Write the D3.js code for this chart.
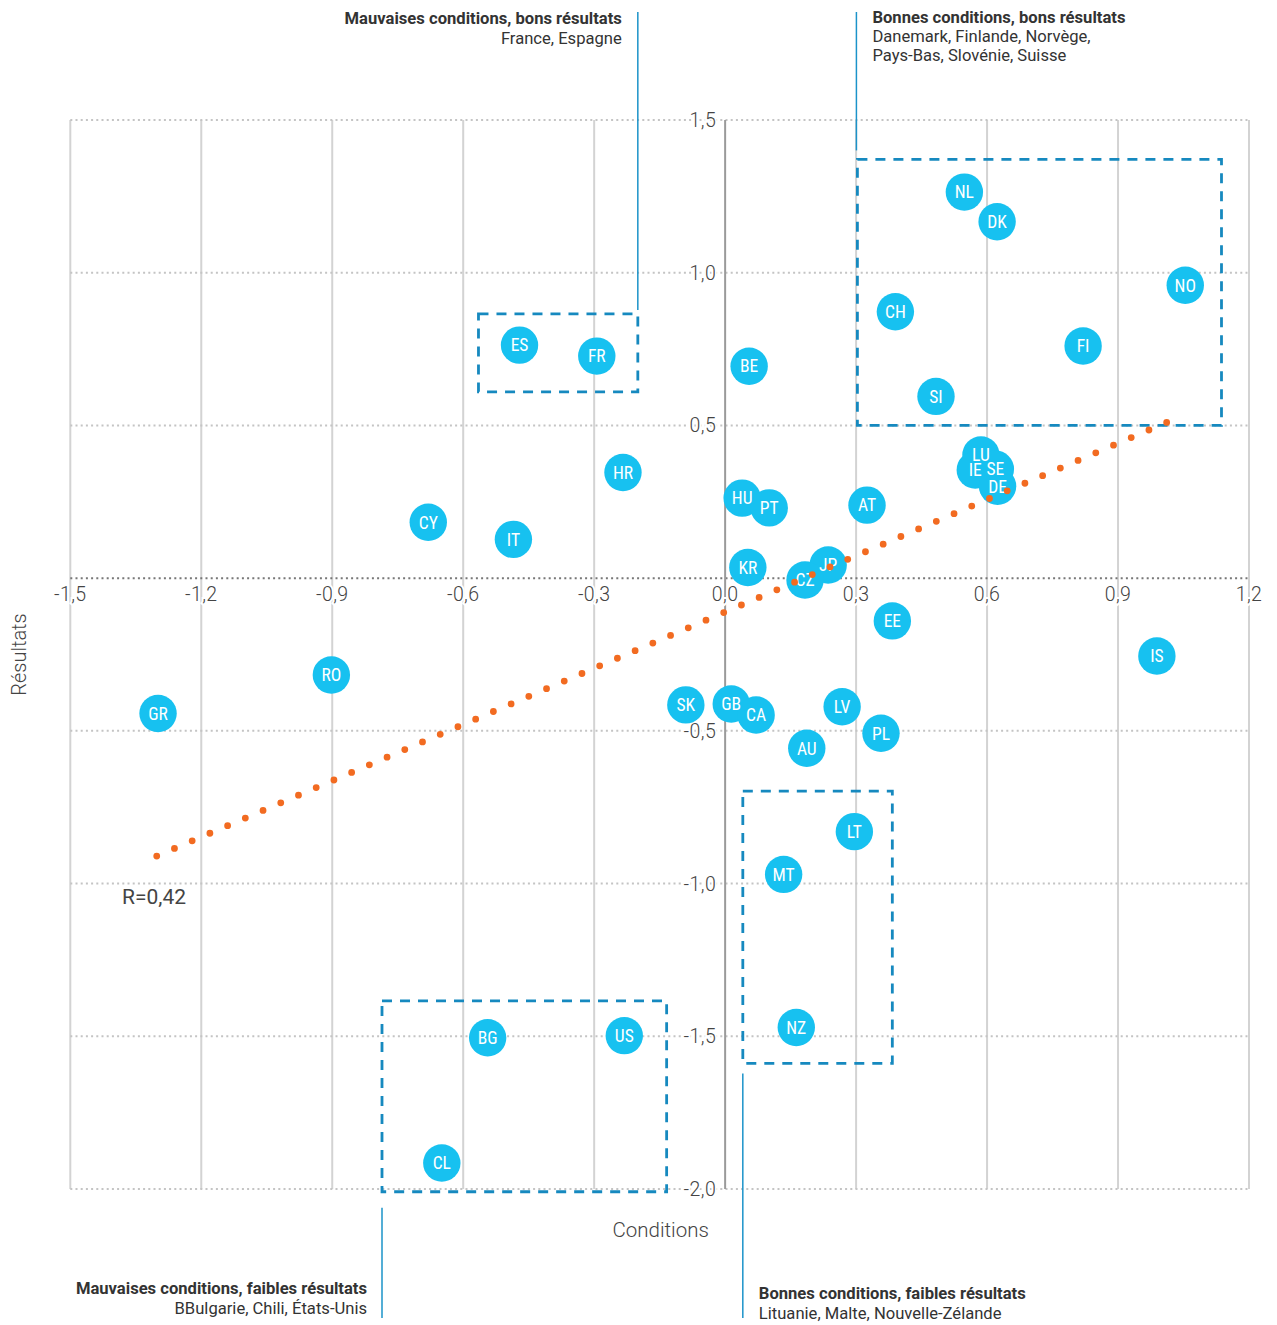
<!DOCTYPE html>
<html><head><meta charset="utf-8">
<script src="https://cdn.jsdelivr.net/npm/d3@7"></script>
<style>
html,body{margin:0;padding:0;background:#fff;}
svg{display:block;}
</style></head>
<body>
<svg id="c" width="1277" height="1325"></svg>
<script>
// ---- data ----
const codes = ["NL","DK","NO","CH","FI","SI","BE","ES","FR","HR","CY","IT","HU","PT","AT","LU","IE","SE","DE","KR","JP","CZ","EE","IS","RO","GR","SK","GB","CA","LV","AU","PL","LT","MT","NZ","BG","US","CL"];
const conditions = [0.548,0.623,1.054,0.390,0.820,0.483,0.055,-0.471,-0.294,-0.234,-0.680,-0.485,0.039,0.101,0.325,0.586,0.573,0.619,0.624,0.052,0.236,0.183,0.383,0.989,-0.902,-1.299,-0.090,0.014,0.071,0.268,0.187,0.357,0.296,0.134,0.163,-0.544,-0.231,-0.649];
const resultats  = [1.264,1.167,0.959,0.872,0.760,0.595,0.694,0.763,0.727,0.346,0.183,0.127,0.262,0.230,0.239,0.403,0.354,0.357,0.301,0.035,0.043,-0.006,-0.140,-0.255,-0.317,-0.443,-0.415,-0.412,-0.448,-0.421,-0.557,-0.508,-0.830,-0.970,-1.471,-1.505,-1.498,-1.915];

const xTicks = [-1.5,-1.2,-0.9,-0.6,-0.3,0.0,0.3,0.6,0.9,1.2];
const yTicks = [-2.0,-1.5,-1.0,-0.5,0.0,0.5,1.0,1.5];

const trendX = [-1.302, 1.0115];
const trendY = [-0.910, 0.510];
const rLabel = "R=0,42";

// quadrant boxes: [xMin, xMax, yMin, yMax]
const boxTopLeft     = [-0.565, -0.200, 0.610, 0.865];
const boxTopRight    = [0.303, 1.137, 0.500, 1.371];
const boxBottomLeft  = [-0.786, -0.134, -2.009, -1.384];
const boxBottomRight = [0.0405, 0.383, -1.589, -0.697];

const noteTitles = ["Mauvaises conditions, bons résultats","Bonnes conditions, bons résultats","Mauvaises conditions, faibles résultats","Bonnes conditions, faibles résultats"];
const noteLines = [["France, Espagne"],["Danemark, Finlande, Norvège,","Pays-Bas, Slovénie, Suisse"],["BBulgarie, Chili, États-Unis"],["Lituanie, Malte, Nouvelle-Zélande"]];

const xTitle = "Conditions";
const yTitle = "Résultats";

// ---- drawing ----
const FONT = "Roboto,'Liberation Sans',sans-serif";
const CFONT = "'Roboto Condensed','Liberation Sans Narrow',Roboto,sans-serif";
const svg = d3.select("#c");
const x = d3.scaleLinear().domain([-1.5,1.2]).range([70.3,1249]);
const y = d3.scaleLinear().domain([-2,1.5]).range([1189,120]);
const fmt = v => d3.format(".1f")(v).replace(".",",").replace("−","-");

const g = svg.append("g");

// vertical grid
g.selectAll("line.vg").data(xTicks.filter(d=>d!==0)).join("line")
  .attr("x1",d=>x(d)).attr("x2",d=>x(d)).attr("y1",y(1.5)).attr("y2",y(-2))
  .attr("stroke","#d3d3d3").attr("stroke-width",2);
// horizontal dotted grid
g.selectAll("line.hg").data(yTicks).join("line")
  .attr("x1",x(-1.5)).attr("x2",x(1.2)).attr("y1",d=>y(d)).attr("y2",d=>y(d))
  .attr("stroke",d=>d===0?"#777":"#c4c4c4").attr("stroke-width",2)
  .attr("stroke-dasharray","2,3.2");
// y axis line
g.append("line").attr("x1",x(0)).attr("x2",x(0)).attr("y1",y(1.5)).attr("y2",y(-2))
  .attr("stroke","#9a9a9a").attr("stroke-width",2);

// x tick labels
g.selectAll("text.xt").data(xTicks).join("text")
  .attr("x",d=>x(d)).attr("y",y(0)+23).attr("text-anchor","middle")
  .attr("font-family",FONT).attr("font-weight",300).attr("font-size",19.5).attr("letter-spacing",0.4).attr("fill","#444")
  .attr("stroke","#fff").attr("stroke-width",4).attr("paint-order","stroke")
  .text(fmt);
// y tick labels
g.selectAll("text.yt").data(yTicks.filter(d=>d!==0)).join("text")
  .attr("x",x(0)-9).attr("y",d=>y(d)).attr("dy","0.36em").attr("text-anchor","end")
  .attr("font-family",FONT).attr("font-weight",300).attr("font-size",19.5).attr("letter-spacing",0.4).attr("fill","#444")
  .attr("stroke","#fff").attr("stroke-width",4).attr("paint-order","stroke")
  .text(fmt);

// axis titles
g.append("text").attr("x",(x(-1.5)+x(1.2))/2+1).attr("y",1237).attr("text-anchor","middle")
  .attr("font-family",FONT).attr("font-weight",300).attr("font-size",20.5).attr("fill","#444").text(xTitle);
g.append("text").attr("transform",`translate(26,${(y(1.5)+y(-2))/2}) rotate(-90)`)
  .attr("text-anchor","middle")
  .attr("font-family",FONT).attr("font-weight",300).attr("font-size",20).attr("fill","#444").text(yTitle);

// boxes
const BLUE = "#1689bf";
const boxes = [boxTopLeft, boxTopRight, boxBottomLeft, boxBottomRight];
g.selectAll("rect.box").data(boxes).join("rect")
  .attr("x",d=>x(d[0])).attr("y",d=>y(d[3]))
  .attr("width",d=>x(d[1])-x(d[0])).attr("height",d=>y(d[2])-y(d[3]))
  .attr("fill","none").attr("stroke",BLUE).attr("stroke-width",2.8)
  .attr("stroke-dasharray","10,8");

// connectors
const connectors = [
  [x(boxTopLeft[1]), 12, y(boxTopLeft[3])-4],
  [x(boxTopRight[0])-1, 12, y(boxTopRight[3])-9],
  [x(boxBottomLeft[0]), y(boxBottomLeft[2])+16, 1318],
  [x(boxBottomRight[0]), y(boxBottomRight[2])+10, 1318]
];
g.selectAll("line.cn").data(connectors).join("line")
  .attr("x1",d=>d[0]).attr("x2",d=>d[0]).attr("y1",d=>d[1]).attr("y2",d=>d[2])
  .attr("stroke","#1b93c9").attr("stroke-width",1.5);

// notes
const notePos = [
  {x:x(boxTopLeft[1])-16, y:24, anchor:"end", lh:20},
  {x:x(boxTopRight[0])+15, y:23, anchor:"start", lh:19},
  {x:x(boxBottomLeft[0])-15, y:1294, anchor:"end", lh:20},
  {x:x(boxBottomRight[0])+16, y:1299, anchor:"start", lh:20}
];
noteTitles.forEach((t,i)=>{
  const p = notePos[i];
  const tx = g.append("text").attr("font-family",FONT).attr("font-size",16.6)
    .attr("fill","#333").attr("text-anchor",p.anchor);
  tx.append("tspan").attr("x",p.x).attr("y",p.y).attr("font-weight","bold").text(t);
  noteLines[i].forEach((l,j)=>{
    tx.append("tspan").attr("x",p.x).attr("y",p.y+p.lh*(j+1)).text(l);
  });
});

// points
const pts = codes.map((c,i)=>({c, x:conditions[i], y:resultats[i]}));
g.selectAll("circle.pt").data(pts).join("circle")
  .attr("cx",d=>x(d.x)).attr("cy",d=>y(d.y)).attr("r",18.7)
  .attr("fill","#17c1f0");
g.selectAll("text.pl").data(pts).join("text")
  .attr("x",d=>x(d.x)).attr("y",d=>y(d.y)).attr("dy","0.36em").attr("text-anchor","middle")
  .attr("font-family",CFONT).attr("font-size",17.5).attr("fill","#fff")
  .text(d=>d.c);

// trend line (dotted)
const line = d3.line().x(d=>x(d[0])).y(d=>y(d[1]));
const tp = g.append("path").attr("d",line(trendX.map((v,i)=>[v,trendY[i]])))
  .attr("fill","none").attr("stroke","#f26b21").attr("stroke-width",6.8)
  .attr("stroke-linecap","round");
const L = tp.node().getTotalLength();
tp.attr("stroke-dasharray",`0,${(L/57)-0.001}`);

// R label
g.append("text").attr("x",122).attr("y",y(-1.0)+20).attr("font-family",FONT)
  .attr("font-size",21).attr("fill","#444").text(rLabel);
</script>
</body></html>
